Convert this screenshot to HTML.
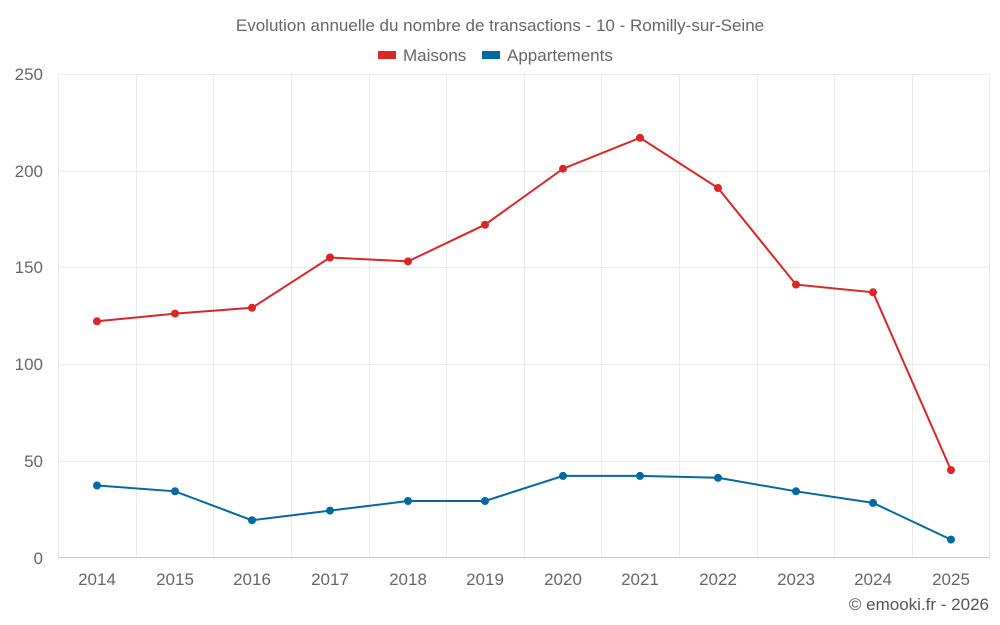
<!DOCTYPE html>
<html><head><meta charset="utf-8"><style>
body{margin:0;background:#fff;}
svg{display:block;font-family:"Liberation Sans",Roboto,sans-serif;}
</style></head><body>
<svg width="1000" height="625" viewBox="0 0 1000 625">
<rect width="1000" height="625" fill="#fff"/>
<text x="500" y="31" text-anchor="middle" font-size="17" fill="#666">Evolution annuelle du nombre de transactions - 10 - Romilly-sur-Seine</text>
<rect x="378" y="51" width="18" height="8" fill="#dc2626"/>
<text x="403" y="61" font-size="17" fill="#666">Maisons</text>
<rect x="482" y="51" width="18" height="8" fill="#0369a1"/>
<text x="507" y="61" font-size="17" fill="#666">Appartements</text>
<g stroke="#ebebeb" stroke-width="1">
<line x1="58" y1="74.5" x2="990" y2="74.5"/>
<line x1="58" y1="171.5" x2="990" y2="171.5"/>
<line x1="58" y1="267.5" x2="990" y2="267.5"/>
<line x1="58" y1="364.5" x2="990" y2="364.5"/>
<line x1="58" y1="461.5" x2="990" y2="461.5"/>
<line x1="58.5" y1="74" x2="58.5" y2="557"/><line x1="136.5" y1="74" x2="136.5" y2="557"/><line x1="213.5" y1="74" x2="213.5" y2="557"/><line x1="291.5" y1="74" x2="291.5" y2="557"/><line x1="369.5" y1="74" x2="369.5" y2="557"/><line x1="446.5" y1="74" x2="446.5" y2="557"/><line x1="524.5" y1="74" x2="524.5" y2="557"/><line x1="601.5" y1="74" x2="601.5" y2="557"/><line x1="679.5" y1="74" x2="679.5" y2="557"/><line x1="757.5" y1="74" x2="757.5" y2="557"/><line x1="834.5" y1="74" x2="834.5" y2="557"/><line x1="912.5" y1="74" x2="912.5" y2="557"/><line x1="989.5" y1="74" x2="989.5" y2="557"/>
</g>
<line x1="58" y1="557.5" x2="990" y2="557.5" stroke="#ccc"/>
<g font-size="17" fill="#666" text-anchor="end">
<text x="43" y="80">250</text><text x="43" y="177">200</text><text x="43" y="273">150</text><text x="43" y="370">100</text><text x="43" y="467">50</text><text x="43" y="564">0</text>
</g>
<g font-size="17" fill="#666" text-anchor="middle">
<text x="97" y="585">2014</text><text x="175" y="585">2015</text><text x="252" y="585">2016</text><text x="330" y="585">2017</text><text x="408" y="585">2018</text><text x="485" y="585">2019</text><text x="563" y="585">2020</text><text x="640" y="585">2021</text><text x="718" y="585">2022</text><text x="796" y="585">2023</text><text x="873" y="585">2024</text><text x="951" y="585">2025</text>
</g>
<polyline fill="none" stroke="#dc2626" stroke-width="2" points="97,321.3 175,313.6 252,307.8 330,257.5 408,261.4 485,224.7 563,168.7 640,137.8 718,188 796,284.6 873,292.3 951,470.1"/>
<g fill="#dc2626"><circle cx="97" cy="321.3" r="4"/><circle cx="175" cy="313.6" r="4"/><circle cx="252" cy="307.8" r="4"/><circle cx="330" cy="257.5" r="4"/><circle cx="408" cy="261.4" r="4"/><circle cx="485" cy="224.7" r="4"/><circle cx="563" cy="168.7" r="4"/><circle cx="640" cy="137.8" r="4"/><circle cx="718" cy="188" r="4"/><circle cx="796" cy="284.6" r="4"/><circle cx="873" cy="292.3" r="4"/><circle cx="951" cy="470.1" r="4"/></g>
<polyline fill="none" stroke="#0369a1" stroke-width="2" points="97,485.5 175,491.3 252,520.3 330,510.6 408,501 485,501 563,475.9 640,475.9 718,477.8 796,491.3 873,502.9 951,539.6"/>
<g fill="#0369a1"><circle cx="97" cy="485.5" r="4"/><circle cx="175" cy="491.3" r="4"/><circle cx="252" cy="520.3" r="4"/><circle cx="330" cy="510.6" r="4"/><circle cx="408" cy="501" r="4"/><circle cx="485" cy="501" r="4"/><circle cx="563" cy="475.9" r="4"/><circle cx="640" cy="475.9" r="4"/><circle cx="718" cy="477.8" r="4"/><circle cx="796" cy="491.3" r="4"/><circle cx="873" cy="502.9" r="4"/><circle cx="951" cy="539.6" r="4"/></g>
<text x="989" y="610" text-anchor="end" font-size="17" fill="#555">© emooki.fr - 2026</text>
</svg>
</body></html>
